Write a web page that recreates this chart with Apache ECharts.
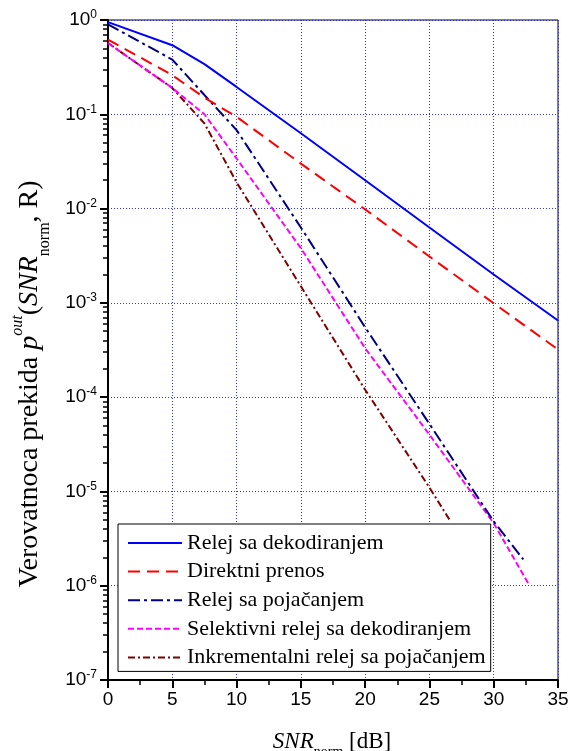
<!DOCTYPE html>
<html>
<head>
<meta charset="utf-8">
<script src="https://cdn.jsdelivr.net/npm/echarts@6/dist/echarts.min.js"></script>
<style>
  html, body { margin: 0; padding: 0; background: #fff; }
  #chart { width: 569px; height: 751px; }
</style>
</head>
<body>
<div id="chart"></div>
<script>
// vrednosti ocitane sa slike (SNR u dB, verovatnoca prekida)
const xTicks = [0, 5, 10, 15, 20, 25, 30, 35]
const yTickExp = [0, -1, -2, -3, -4, -5, -6, -7]

const seriesNames = [
  'Relej sa dekodiranjem',
  'Direktni prenos',
  'Relej sa pojačanjem',
  'Selektivni relej sa dekodiranjem',
  'Inkrementalni relej sa pojačanjem',
]

const snrDek = [0, 5, 7.5, 10, 15, 20, 25, 30, 35]
const pDek = [0.95, 0.54, 0.34, 0.195, 0.063, 0.020, 0.0063, 0.0020, 0.00065]

const snrDir = [0, 5, 7.5, 10, 15, 20, 25, 30, 35]
const pDir = [0.62, 0.26, 0.15, 0.094, 0.030, 0.0098, 0.0031, 0.00099, 0.00032]

const snrPoj = [0, 5, 7.5, 10, 15, 20, 25, 30, 32.3]
const pPoj = [0.9, 0.38, 0.16, 0.068, 0.0063, 0.00055, 0.000052, 0.0000048, 0.0000019]

const snrSel = [0, 5, 7.5, 10, 15, 20, 25, 30, 32.7]
const pSel = [0.57, 0.19, 0.1, 0.034, 0.0038, 0.00033, 0.00004, 0.0000046, 0.00000105]

const snrInk = [0, 5, 7.5, 10, 15, 20, 25, 26.65]
const pInk = [0.57, 0.19, 0.08, 0.019, 0.0015, 0.00012, 0.000011, 0.0000048]

const colors = ['#0000ff', '#ff0000', '#000080', '#ff00ff', '#800000']
const dashes = ['solid', [12, 7], [12, 4, 3, 4], [6, 3], [7, 3, 2, 3]]

const minorLogTicks = []
for (let e = -7; e < 0; e++) {
  for (let k = 2; k <= 9; k++) minorLogTicks.push(+(k * Math.pow(10, e)).toPrecision(3))
}

const pairs = (xs, ys) => xs.map((x, i) => [x, ys[i]])
const allData = [
  pairs(snrDek, pDek),
  pairs(snrDir, pDir),
  pairs(snrPoj, pPoj),
  pairs(snrSel, pSel),
  pairs(snrInk, pInk),
]

const serif = 'Liberation Serif'
const sans = 'Liberation Sans'
const gridLine = { show: true, lineStyle: { color: '#2f2fff', width: 1, type: [1, 2] } }

const chart = echarts.init(document.getElementById('chart'), null, { renderer: 'canvas' })

const option = {
  backgroundColor: '#fff',
  animation: false,
  grid: {
    left: 108, right: 11, top: 20, bottom: 71,
    show: true, borderColor: '#000', borderWidth: 1,
    containLabel: false, outerBoundsMode: 'none',
  },
  xAxis: {
    type: 'value',
    min: 0, max: 35, interval: 5,
    axisLine: { show: true, onZero: false, lineStyle: { color: '#000', width: 2 } },
    axisTick: { show: true, inside: false, length: 8, lineStyle: { color: '#000', width: 2 } },
    minorTick: { show: true, splitNumber: 2, length: 5, lineStyle: { color: '#000', width: 1.5 } },
    axisLabel: {
      margin: 10, color: '#000', fontFamily: sans, fontSize: 19,
      customValues: xTicks,
    },
    splitLine: gridLine,
  },
  yAxis: [
    {
      type: 'log', logBase: 10, min: 1e-7, max: 1,
      position: 'left',
      axisLine: { show: true, onZero: false, lineStyle: { color: '#000', width: 2 } },
      axisTick: { show: true, inside: false, length: 8, lineStyle: { color: '#000', width: 2 } },
      axisLabel: {
        margin: 11, color: '#000',
        customValues: yTickExp.map(e => Math.pow(10, e)),
        formatter: v => '{b|10}{e|' + Math.round(Math.log10(v)) + '}',
        rich: {
          b: { fontFamily: sans, fontSize: 19, lineHeight: 22, color: '#000' },
          e: { fontFamily: sans, fontSize: 12, verticalAlign: 'top', color: '#000' },
        },
      },
      splitLine: gridLine,
    },
    {
      type: 'log', logBase: 10, min: 1e-7, max: 1,
      position: 'left',
      axisLine: { show: false },
      axisLabel: { show: false },
      splitLine: { show: false },
      axisTick: {
        show: true, inside: false, length: 5,
        customValues: minorLogTicks,
        lineStyle: { color: '#000', width: 1.5 },
      },
    },
  ],
  legend: {
    orient: 'vertical',
    left: 118, top: 524,
    padding: [8, 5, 3, 9],
    itemWidth: 54, itemHeight: 14, itemGap: 6.6,
    backgroundColor: '#fff',
    borderColor: '#000', borderWidth: 1, borderRadius: 0,
    itemStyle: { opacity: 0 },
    textStyle: { fontFamily: serif, fontSize: 22, lineHeight: 22, color: '#000' },
    data: seriesNames,
  },
  series: seriesNames.map((name, i) => ({
    name,
    type: 'line',
    xAxisIndex: 0,
    yAxisIndex: 0,
    data: allData[i],
    symbol: 'none',
    smooth: false,
    z: 10 - i,
    color: colors[i],
    lineStyle: { color: colors[i], width: 2, type: dashes[i] },
  })),
  graphic: [
    {
      type: 'text',
      x: 30, y: 384,
      rotation: Math.PI / 2,
      style: {
        text: '{t|Verovatnoca prekida }{i|p}{sup|out}{t|(}{i|SNR}{sub|norm}{t|, R)}',
        align: 'center', verticalAlign: 'middle',
        fill: '#000',
        rich: {
          t: { fontFamily: serif, fontSize: 28, lineHeight: 46, fill: '#000' },
          i: { fontFamily: serif, fontSize: 28, fontStyle: 'italic', lineHeight: 46, fill: '#000' },
          sup: { fontFamily: serif, fontSize: 16, fontStyle: 'italic', verticalAlign: 'top', padding: [3, 0, 0, 0], fill: '#000' },
          sub: { fontFamily: serif, fontSize: 16, verticalAlign: 'bottom', fill: '#000' },
        },
      },
    },
    {
      type: 'text',
      x: 332, y: 742,
      style: {
        text: '{i|SNR}{sub|norm}{t| [dB]}',
        align: 'center', verticalAlign: 'middle',
        fill: '#000',
        rich: {
          t: { fontFamily: serif, fontSize: 23, lineHeight: 34, fill: '#000' },
          i: { fontFamily: serif, fontSize: 23, fontStyle: 'italic', lineHeight: 34, fill: '#000' },
          sub: { fontFamily: serif, fontSize: 14, verticalAlign: 'bottom', fill: '#000' },
        },
      },
    },
  ],
}

chart.setOption(option)
</script>
</body>
</html>
